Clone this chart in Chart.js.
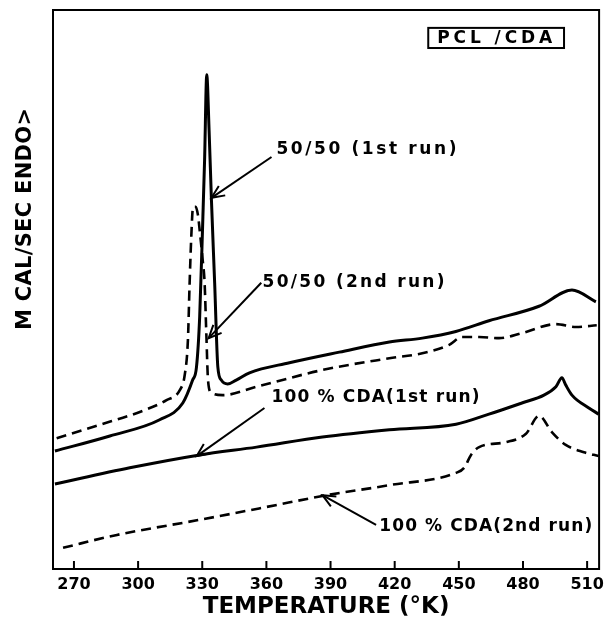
<!DOCTYPE html>
<html>
<head>
<meta charset="utf-8">
<script src="https://cdn.jsdelivr.net/npm/chart.js@4.4.1/dist/chart.umd.min.js"></script>
<style>
html,body{margin:0;padding:0;background:#fff;}
#wrap{width:610px;height:623px;}
</style>
</head>
<body>
<div id="wrap"><canvas id="c" width="610" height="623"></canvas></div>
<script>
// ---- Data (temperature in K, signal in arbitrary units 0-100) ----
const tickValues = [270, 300, 330, 360, 390, 420, 450, 480, 510];

const run1_5050_T = [261.1, 286.8, 310.1, 320.9, 325.5, 327.3, 328.8, 330.3, 331.1, 332.1, 333.2, 334.3, 335.8, 337.3, 338.9, 341.9, 345.9, 352.1, 370.8, 394.1, 417.5, 432.9, 448.6, 464.1, 487.5, 502.9, 514.1];
const run1_5050_Y = [21.1, 23.8, 26.7, 29.7, 33.8, 36.1, 45.1, 63.0, 73.2, 88.4, 78.5, 66.0, 51.2, 36.1, 33.8, 33.1, 33.8, 35.1, 36.9, 38.8, 40.6, 41.3, 42.5, 44.4, 47.0, 49.9, 47.8];

const run2_5050_T = [261.9, 282.1, 300.8, 313.3, 319.5, 321.8, 323.3, 324.1, 324.9, 325.7, 326.9, 328.0, 328.8, 330.2, 331.1, 331.9, 332.7, 334.3, 339.5, 355.4, 386.2, 417.5, 432.9, 445.5, 451.5, 459.5, 468.8, 479.5, 495.4, 504.7, 514.5];
const run2_5050_Y = [23.4, 25.8, 28.1, 30.2, 32.0, 34.7, 41.0, 51.2, 59.7, 64.8, 64.8, 63.3, 60.6, 55.3, 51.2, 42.2, 33.8, 31.5, 31.1, 32.6, 35.6, 37.7, 38.6, 40.1, 41.5, 41.5, 41.3, 42.2, 43.8, 43.3, 43.6];

const run1_cda_T = [261.1, 296.1, 328.8, 355.4, 386.2, 417.5, 448.7, 464.1, 479.5, 489.8, 495.4, 498.2, 500.0, 502.9, 510.8, 515.4];
const run1_cda_Y = [15.2, 18.1, 20.4, 21.8, 23.6, 24.9, 25.9, 27.7, 29.7, 31.1, 32.6, 34.2, 32.9, 31.1, 28.8, 27.7];

const run2_cda_T = [264.9, 290.1, 328.8, 360.1, 388.1, 417.5, 448.7, 452.5, 455.7, 459.5, 472.1, 481.4, 487.5, 493.5, 500.0, 508.5, 515.4];
const run2_cda_Y = [3.8, 6.1, 8.8, 11.1, 13.2, 15.0, 17.2, 18.1, 20.4, 21.8, 22.7, 24.2, 27.4, 24.5, 22.2, 20.9, 20.2];

const seriesLabels = ["50/50 (1st run)", "50/50 (2nd run)", "100 % CDA(1st run)", "100 % CDA(2nd run)"];

function pts(T, Y) { return T.map((t, i) => ({x: t, y: Y[i]})); }

// annotation labels: [text, x(K), y(value), target width px]
const annLabels = [
  [seriesLabels[0], 364.7, 75.0, 180],
  [seriesLabels[1], 358.2, 51.2, 182],
  [seriesLabels[2], 362.4, 30.6, 208],
  [seriesLabels[3], 412.8, 7.5, 213]
];
// arrows: [fromX, fromY, toX, toY] in data units
const annArrows = [
  [362.4, 73.7, 334.3, 66.4],
  [357.6, 51.2, 333.0, 41.3],
  [359.1, 28.8, 327.4, 20.2],
  [411.3, 7.9, 386.2, 13.2]
];

function spaced(ctx, text, x, yc, width) {
  const chars = [...text];
  const ws = chars.map(c => ctx.measureText(c).width);
  const total = ws.reduce((a, b) => a + b, 0);
  const gap = chars.length > 1 ? (width - total) / (chars.length - 1) : 0;
  let cx = x;
  ctx.textAlign = 'left';
  ctx.textBaseline = 'middle';
  chars.forEach((c, i) => { ctx.fillText(c, cx, yc); cx += ws[i] + gap; });
}

const refPlugin = {
  id: 'ref',
  afterDatasetsDraw(chart) {
    const {ctx, chartArea: a, scales: {x, y}} = chart;
    ctx.save();
    ctx.strokeStyle = '#000';
    ctx.fillStyle = '#000';
    ctx.lineWidth = 2;
    ctx.strokeRect(a.left, a.top, a.right - a.left, a.bottom - a.top);
    // inward ticks
    tickValues.forEach(v => {
      const px = x.getPixelForValue(v);
      ctx.beginPath(); ctx.moveTo(px, a.bottom); ctx.lineTo(px, a.bottom - 8); ctx.stroke();
    });
    // arrows
    ctx.lineWidth = 2;
    annArrows.forEach(([x1, y1, x2, y2]) => {
      const p1x = x.getPixelForValue(x1), p1y = y.getPixelForValue(y1);
      const p2x = x.getPixelForValue(x2), p2y = y.getPixelForValue(y2);
      ctx.beginPath(); ctx.moveTo(p1x, p1y); ctx.lineTo(p2x, p2y); ctx.stroke();
      const ang = Math.atan2(p1y - p2y, p1x - p2x);
      const L = 14, da = 0.42;
      ctx.beginPath();
      ctx.moveTo(p2x + L * Math.cos(ang + da), p2y + L * Math.sin(ang + da));
      ctx.lineTo(p2x, p2y);
      ctx.lineTo(p2x + L * Math.cos(ang - da), p2y + L * Math.sin(ang - da));
      ctx.stroke();
    });
    // labels
    ctx.font = 'bold 17px "DejaVu Sans"';
    annLabels.forEach(([t, lx, ly, w]) => {
      spaced(ctx, t, x.getPixelForValue(lx), y.getPixelForValue(ly), w);
    });
    // PCL/CDA box
    const bx1 = x.getPixelForValue(435.7), bx2 = x.getPixelForValue(499.2);
    const by1 = y.getPixelForValue(96.8), by2 = y.getPixelForValue(93.2);
    ctx.lineWidth = 2;
    ctx.strokeRect(bx1, by1, bx2 - bx1, by2 - by1);
    ctx.font = 'bold 17px "DejaVu Sans"';
    spaced(ctx, 'PCL /CDA', bx1 + 9, (by1 + by2) / 2 + 1, 115);
    // y axis title
    ctx.translate(26, 219);
    ctx.rotate(-Math.PI / 2);
    ctx.font = 'bold 21px "DejaVu Sans"';
    spaced(ctx, 'M CAL/SEC ENDO>', -111, 0, 222);
    ctx.restore();
  }
};

const solidStyle = {borderColor: '#000', borderWidth: 3, pointRadius: 0, fill: false, cubicInterpolationMode: 'monotone'};
const dashStyle = {borderColor: '#000', borderWidth: 2.6, borderDash: [10, 6], pointRadius: 0, fill: false, cubicInterpolationMode: 'monotone'};

new Chart(document.getElementById('c'), {
  type: 'line',
  data: {
    datasets: [
      Object.assign({label: seriesLabels[0], data: pts(run1_5050_T, run1_5050_Y)}, solidStyle),
      Object.assign({label: seriesLabels[1], data: pts(run2_5050_T, run2_5050_Y)}, dashStyle),
      Object.assign({label: seriesLabels[2], data: pts(run1_cda_T, run1_cda_Y)}, solidStyle),
      Object.assign({label: seriesLabels[3], data: pts(run2_cda_T, run2_cda_Y)}, dashStyle)
    ]
  },
  options: {
    responsive: false,
    animation: false,
    layout: {padding: {left: 53, right: 8, top: 10, bottom: 0}},
    plugins: {legend: {display: false}, tooltip: {enabled: false}},
    scales: {
      x: {
        type: 'linear',
        min: 260.2,
        max: 515.6,
        afterBuildTicks: s => { s.ticks = tickValues.map(v => ({value: v})); },
        afterFit: s => { s.height = 54; },
        grid: {display: false, drawTicks: false},
        border: {display: false},
        ticks: {color: '#000', font: {family: 'DejaVu Sans', weight: 'bold', size: 16}, padding: 6, maxRotation: 0, autoSkip: false, callback: v => String(v)},
        title: {display: true, text: 'TEMPERATURE (°K)', color: '#000', font: {family: 'DejaVu Sans', weight: 'bold', size: 23}, padding: {top: 0, bottom: 2}}
      },
      y: {
        min: 0,
        max: 100,
        display: false
      }
    }
  },
  plugins: [refPlugin]
});
</script>
</body>
</html>
